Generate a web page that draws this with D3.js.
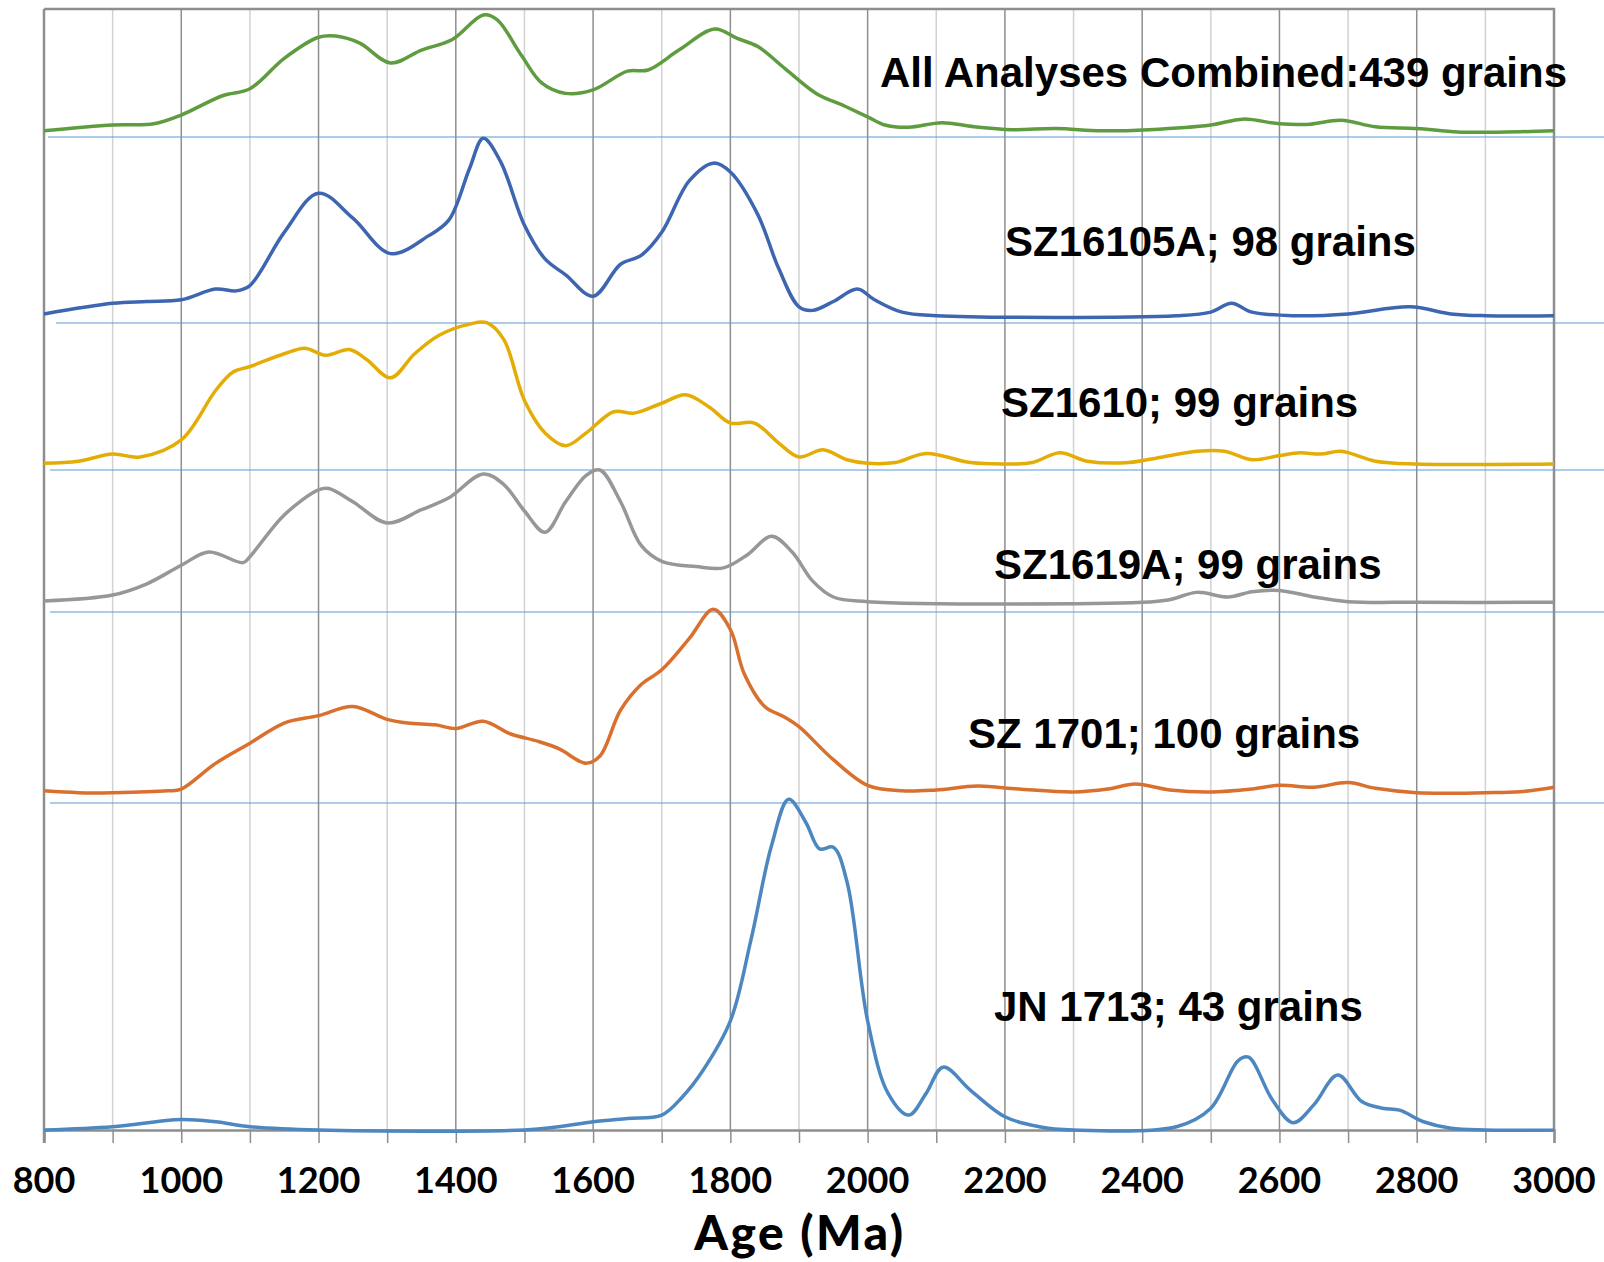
<!DOCTYPE html>
<html>
<head>
<meta charset="utf-8">
<script src="https://cdn.jsdelivr.net/npm/d3@7"></script>
<style>
  body { margin: 0; background: #fff; }
  svg { display: block; }
</style>
</head>
<body>
<div id="chart"></div>
<script>
// ages (Ma) and relative probability (1 = tallest peak of each sample)
const combined = [
  [800, 0.01], [900, 0.06], [960, 0.07], [1000, 0.145], [1060, 0.31], [1100, 0.37],
  [1150, 0.63], [1200, 0.81], [1225, 0.82], [1260, 0.76], [1305, 0.59], [1350, 0.70],
  [1395, 0.79], [1440, 1.0], [1460, 0.96], [1495, 0.66], [1525, 0.42], [1560, 0.33],
  [1600, 0.36], [1650, 0.52], [1680, 0.53], [1725, 0.70], [1777, 0.88], [1810, 0.80],
  [1840, 0.73], [1880, 0.54], [1925, 0.33], [1967, 0.22], [2000, 0.13], [2025, 0.06],
  [2060, 0.04], [2108, 0.08], [2155, 0.045], [2210, 0.02], [2275, 0.03], [2340, 0.01],
  [2410, 0.02], [2500, 0.06], [2547, 0.11], [2600, 0.07], [2640, 0.065], [2690, 0.10],
  [2740, 0.045], [2800, 0.03], [2860, 0.0], [2930, 0.0], [3000, 0.01]
]
const sz16105a = [
  [800, 0.01], [900, 0.07], [950, 0.08], [1000, 0.09], [1050, 0.15], [1080, 0.14],
  [1100, 0.17], [1150, 0.47], [1200, 0.69], [1250, 0.55], [1305, 0.35], [1360, 0.45],
  [1390, 0.54], [1420, 0.83], [1440, 1.0], [1465, 0.87], [1500, 0.51], [1530, 0.32],
  [1560, 0.23], [1600, 0.11], [1640, 0.29], [1670, 0.34], [1700, 0.47], [1740, 0.76],
  [1775, 0.86], [1800, 0.81], [1840, 0.57], [1870, 0.27], [1900, 0.05], [1920, 0.03],
  [1950, 0.08], [1985, 0.15], [2010, 0.09], [2050, 0.02], [2100, 0.0], [2450, 0.0],
  [2500, 0.02], [2530, 0.07], [2560, 0.02], [2620, 0.0], [2700, 0.01], [2790, 0.05],
  [2850, 0.01], [2900, 0.0], [3000, 0.0]
]
const sz1610 = [
  [800, 0.005], [850, 0.02], [900, 0.07], [940, 0.05], [1000, 0.17], [1050, 0.52],
  [1075, 0.65], [1100, 0.69], [1150, 0.78], [1180, 0.82], [1210, 0.77], [1245, 0.81],
  [1270, 0.74], [1305, 0.61], [1340, 0.78], [1375, 0.91], [1420, 0.99], [1445, 1.0],
  [1470, 0.88], [1500, 0.45], [1530, 0.22], [1560, 0.13], [1590, 0.22], [1630, 0.37],
  [1660, 0.36], [1700, 0.43], [1735, 0.49], [1770, 0.40], [1800, 0.29], [1835, 0.29],
  [1870, 0.15], [1900, 0.05], [1935, 0.10], [1970, 0.03], [2000, 0.005], [2040, 0.01],
  [2085, 0.075], [2150, 0.01], [2200, 0.0], [2240, 0.01], [2280, 0.08], [2320, 0.02],
  [2380, 0.01], [2430, 0.05], [2480, 0.09], [2520, 0.09], [2560, 0.03], [2600, 0.06],
  [2630, 0.08], [2660, 0.07], [2690, 0.09], [2740, 0.02], [2800, 0.0], [3000, 0.0]
]
const sz1619a = [
  [800, 0.01], [900, 0.055], [950, 0.14], [1000, 0.28], [1040, 0.38], [1090, 0.30],
  [1100, 0.345], [1150, 0.66], [1200, 0.85], [1215, 0.86], [1250, 0.76], [1300, 0.60],
  [1350, 0.70], [1390, 0.79], [1440, 0.97], [1470, 0.89], [1500, 0.69], [1530, 0.53],
  [1560, 0.76], [1590, 0.96], [1610, 1.0], [1640, 0.76], [1670, 0.43], [1700, 0.31],
  [1750, 0.27], [1790, 0.26], [1825, 0.36], [1860, 0.50], [1890, 0.38], [1920, 0.16],
  [1950, 0.04], [2000, 0.005], [2400, 0.0], [2440, 0.02], [2480, 0.075], [2525, 0.04],
  [2560, 0.08], [2600, 0.09], [2650, 0.04], [2700, 0.005], [2800, 0.0], [3000, 0.0]
]
const sz1701 = [
  [800, 0.01], [850, 0.0], [900, 0.0], [980, 0.01], [1000, 0.02], [1050, 0.16],
  [1100, 0.27], [1150, 0.38], [1200, 0.42], [1250, 0.47], [1300, 0.40], [1330, 0.38],
  [1370, 0.37], [1400, 0.35], [1440, 0.39], [1480, 0.32], [1520, 0.28], [1550, 0.24],
  [1590, 0.16], [1610, 0.20], [1640, 0.45], [1670, 0.59], [1700, 0.67], [1740, 0.84],
  [1775, 1.0], [1800, 0.89], [1820, 0.65], [1850, 0.47], [1880, 0.41], [1900, 0.36],
  [1950, 0.18], [2000, 0.04], [2050, 0.01], [2100, 0.015], [2160, 0.036], [2220, 0.02],
  [2300, 0.004], [2350, 0.02], [2390, 0.047], [2440, 0.015], [2500, 0.004], [2560, 0.02],
  [2600, 0.04], [2650, 0.03], [2700, 0.055], [2740, 0.024], [2800, 0.0], [2900, 0.0],
  [2950, 0.005], [3000, 0.03]
]
const jn1713 = [
  [800, 0.0], [900, 0.01], [1000, 0.032], [1050, 0.025], [1100, 0.01], [1200, 0.0],
  [1500, 0.0], [1550, 0.01], [1600, 0.025], [1650, 0.035], [1700, 0.045], [1730, 0.10],
  [1760, 0.18], [1800, 0.33], [1830, 0.575], [1860, 0.86], [1885, 1.0], [1910, 0.93],
  [1930, 0.85], [1950, 0.855], [1970, 0.75], [2000, 0.33], [2030, 0.11], [2060, 0.045],
  [2085, 0.11], [2110, 0.19], [2150, 0.12], [2200, 0.04], [2250, 0.01], [2300, 0.0],
  [2450, 0.01], [2500, 0.066], [2540, 0.21], [2555, 0.22], [2590, 0.09], [2620, 0.022],
  [2650, 0.076], [2685, 0.166], [2720, 0.086], [2750, 0.066], [2775, 0.06], [2810, 0.025],
  [2850, 0.005], [2900, 0.0], [3000, 0.0]
]

const sampleNames = [
  "All Analyses Combined:439 grains",
  "SZ16105A; 98 grains",
  "SZ1610; 99 grains",
  "SZ1619A; 99 grains",
  "SZ 1701; 100 grains",
  "JN 1713; 43 grains"
]
const sampleData = [combined, sz16105a, sz1610, sz1619a, sz1701, jn1713]
const tickLabels = [800, 1000, 1200, 1400, 1600, 1800, 2000, 2200, 2400, 2600, 2800, 3000]

// layout
const W = 1604, H = 1262
const plotLeft = 44, plotRight = 1554, plotTop = 9, plotBottom = 1130
const panels = [
  { base: 132, peak: 15, color: "#5f9b3f", labelX: 880, labelY: 87 },
  { base: 315.7, peak: 138.3, color: "#3d65b0", labelX: 1005, labelY: 256 },
  { base: 464, peak: 322.7, color: "#e4ad06", labelX: 1001, labelY: 417 },
  { base: 602.3, peak: 470, color: "#979797", labelX: 994, labelY: 579 },
  { base: 792.7, peak: 609.3, color: "#d9702e", labelX: 968, labelY: 748 },
  { base: 1130, peak: 799.3, color: "#4d87c0", labelX: 994, labelY: 1021 }
]
const separators = [
  { y: 137, x0: 48 }, { y: 323, x0: 56 }, { y: 470, x0: 50 },
  { y: 612, x0: 50 }, { y: 803, x0: 50 }
]

const svg = d3.select("#chart").append("svg")
  .attr("width", W)
  .attr("height", H)

const x = d3.scaleLinear().domain([800, 3000]).range([plotLeft, plotRight])

// vertical gridlines every 100 Ma
const gridAges = d3.range(900, 3000, 100)
svg.append("g").selectAll("line")
  .data(gridAges)
  .enter()
    .append("line")
    .attr("x1", d => x(d))
    .attr("x2", d => x(d))
    .attr("y1", plotTop)
    .attr("y2", plotBottom)
    .attr("stroke", d => d % 200 === 0 ? "#8e8e8e" : "#d2d2d2")
    .attr("stroke-width", 1.5)

// frame (top and right)
svg.append("path")
  .attr("d", `M${plotLeft},${plotTop}H${plotRight}V${plotBottom}`)
  .attr("fill", "none")
  .attr("stroke", "#8e8e8e")
  .attr("stroke-width", 2.5)

// separator lines between samples
svg.append("g").selectAll("line")
  .data(separators)
  .enter()
    .append("line")
    .attr("x1", d => d.x0)
    .attr("x2", W)
    .attr("y1", d => d.y)
    .attr("y2", d => d.y)
    .attr("stroke", "#5b9bd5")
    .attr("stroke-width", 1.2)

// bottom axis
const axis = d3.axisBottom(x)
  .tickValues(d3.range(800, 3001, 100))
  .tickSize(13)
  .tickFormat("")
const axisG = svg.append("g")
  .attr("transform", `translate(0,${plotBottom})`)
  .call(axis)
axisG.select(".domain").attr("stroke", "#8e8e8e").attr("stroke-width", 2.5)
axisG.selectAll(".tick line").attr("stroke", "#8e8e8e").attr("stroke-width", 1.5)

// left axis line
svg.append("line")
  .attr("x1", plotLeft).attr("x2", plotLeft)
  .attr("y1", plotTop).attr("y2", plotBottom + 13)
  .attr("stroke", "#8e8e8e")
  .attr("stroke-width", 2.5)

svg.append("g").selectAll("text")
  .data(tickLabels)
  .enter()
    .append("text")
    .attr("x", d => x(d))
    .attr("y", 1193)
    .attr("text-anchor", "middle")
    .attr("font-family", "Lato, 'Open Sans', sans-serif")
    .attr("font-weight", "bold")
    .attr("font-size", 36)
    .text(d => d)

svg.append("text")
  .attr("x", (plotLeft + plotRight) / 2 + 1)
  .attr("y", 1250)
  .attr("text-anchor", "middle")
  .attr("font-family", "Lato, 'Open Sans', sans-serif")
  .attr("font-weight", 900)
  .attr("font-size", 48)
  .attr("letter-spacing", 2.5)
  .text("Age (Ma)")

// probability curves
sampleData.forEach((data, i) => {
  const p = panels[i]
  const y = d3.scaleLinear().domain([0, 1]).range([p.base, p.peak])
  const line = d3.line()
    .x(d => x(d[0]))
    .y(d => y(d[1]))
    .curve(d3.curveCatmullRom.alpha(0.5))

  svg.append("path")
    .datum(data)
    .attr("d", line)
    .attr("fill", "none")
    .attr("stroke", p.color)
    .attr("stroke-width", 3.5)
    .attr("stroke-linejoin", "round")

  svg.append("text")
    .attr("x", p.labelX)
    .attr("y", p.labelY)
    .attr("font-family", "'Liberation Sans', Arial, sans-serif")
    .attr("font-weight", "bold")
    .attr("font-size", 42)
    .text(sampleNames[i])
})
</script>
</body>
</html>
